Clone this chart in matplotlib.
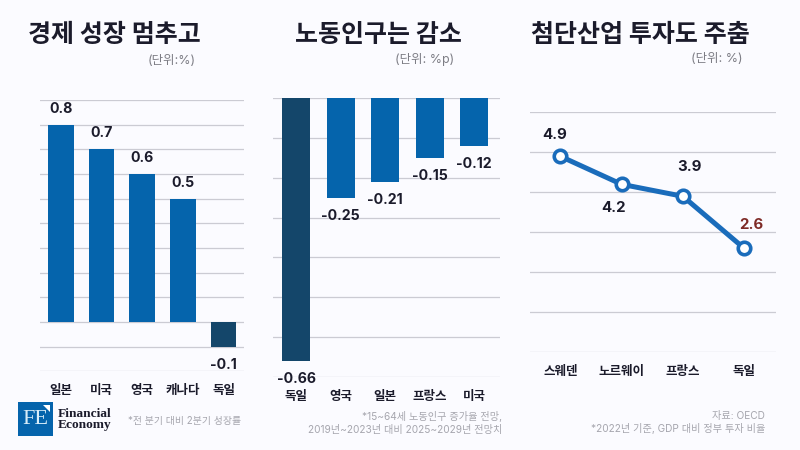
import matplotlib
matplotlib.use("Agg")
import matplotlib.pyplot as plt
from matplotlib.patches import Rectangle, Polygon

plt.rcParams['font.family'] = ['Inter', 'Noto Sans CJK KR', 'DejaVu Sans']

W, H = 800, 450
BG = '#FBFBFF'
BLUE = '#0564AC'
DARK = '#14466A'
LINE = '#1A6CBB'
GRID = '#CBCBD3'
INK = '#1B1B2B'

growth_cats = ['일본', '미국', '영국', '캐나다', '독일']
growth_vals = [0.8, 0.7, 0.6, 0.5, -0.1]
growth_labels = ['0.8', '0.7', '0.6', '0.5', '-0.1']
growth_ticks = [-0.2, -0.1, 0, 0.1, 0.2, 0.3, 0.4, 0.5, 0.6, 0.7, 0.8, 0.9]

labor_cats = ['독일', '영국', '일본', '프랑스', '미국']
labor_vals = [-0.66, -0.25, -0.21, -0.15, -0.12]
labor_labels = ['-0.66', '-0.25', '-0.21', '-0.15', '-0.12']
labor_ticks = [0, -0.1, -0.2, -0.3, -0.4, -0.5, -0.6, -0.7]

invest_cats = ['스웨덴', '노르웨이', '프랑스', '독일']
invest_vals = [4.9, 4.2, 3.9, 2.6]
invest_labels = ['4.9', '4.2', '3.9', '2.6']
invest_ticks = [0, 1, 2, 3, 4, 5, 6]
invest_offsets = [(-6, 21), (-8, -24), (7, 29), (7, 23)]
invest_colors = [INK, INK, INK, '#7E2A26']

fig = plt.figure(figsize=(W / 100, H / 100), dpi=100, facecolor=BG)


def px_axes(x0, x1, ytop, ybot):
    ax = fig.add_axes([x0 / W, 1 - ybot / H, (x1 - x0) / W, (ybot - ytop) / H])
    ax.set_facecolor('none')
    for s in ax.spines.values():
        s.set_visible(False)
    ax.set_axisbelow(True)
    ax.grid(axis='y', color=GRID, lw=0.9)
    ax.tick_params(axis='y', left=False, labelleft=False)
    ax.tick_params(axis='x', bottom=False, labelsize=9, colors=INK)
    return ax


def ftext(x, y, s, **kw):
    kw.setdefault('va', 'center')
    return fig.text(x / W, 1 - y / H, s, **kw)


def bars(ax, cats, vals, labels, dark_idx, width):
    colors = [DARK if i == dark_idx else BLUE for i in range(len(vals))]
    ax.bar(range(len(vals)), vals, width=width, color=colors, zorder=3)
    ax.set_xticks(range(len(cats)), cats, fontweight='bold')
    for i, (v, t) in enumerate(zip(vals, labels)):
        ax.annotate(t, (i, v), xytext=(0, 16 if v > 0 else -18), textcoords='offset pixels',
                    ha='center', va='center', fontsize=10.2, fontweight='bold', color=INK, zorder=4)


# Panel 1
ax1 = px_axes(40, 244, 100, 371.3)
bars(ax1, growth_cats, growth_vals, growth_labels, 4, 0.63)
ax1.set_ylim(-0.2, 0.9)
ax1.set_yticks(growth_ticks)
ax1.set_xlim(-0.515, 4.5)
ax1.tick_params(axis='x', pad=6.5)

# Panel 2
ax2 = px_axes(272.5, 500, 97.7, 377.3)
bars(ax2, labor_cats, labor_vals, labor_labels, 0, 0.63)
ax2.set_ylim(-0.7, 0)
ax2.set_yticks(labor_ticks)
ax2.set_xlim(-0.53, 4.58)
ax2.tick_params(axis='x', pad=6.5)

# Panel 3
ax3 = px_axes(530, 776, 112.3, 352.3)
xs = list(range(len(invest_vals)))
ax3.plot(xs, invest_vals, color=LINE, lw=3.6, marker='o', ms=9, mfc='white', mec=LINE, mew=2.6,
         zorder=3, clip_on=False)
ax3.set_ylim(0, 6)
ax3.set_yticks(invest_ticks)
ax3.set_xlim(-0.495, 3.52)
ax3.set_xticks(xs, invest_cats, fontweight='bold')
ax3.tick_params(axis='x', pad=6.5)
for x, v, t, off, c in zip(xs, invest_vals, invest_labels, invest_offsets, invest_colors):
    ax3.annotate(t, (x, v), xytext=off, textcoords='offset pixels', ha='center', va='center',
                 fontsize=10.8, fontweight='bold', color=c, zorder=4)

# Titles
ftext(28, 35, '경제 성장 멈추고', fontsize=18, fontweight='bold', color=INK)
ftext(295, 35, '노동인구는 감소', fontsize=18, fontweight='bold', color=INK)
ftext(531, 35, '첨단산업 투자도 주춤', fontsize=18, fontweight='bold', color=INK)

# Units
ftext(196, 61, '(단위:%)', fontsize=9, color='#7D7D85', ha='right')
ftext(454, 59, '(단위: %p)', fontsize=9, color='#7D7D85', ha='right')
ftext(743, 59, '(단위: %)', fontsize=9, color='#7D7D85', ha='right')

# Notes
NOTE = '#A6A6AE'
ftext(241, 421, '*전 분기 대비 2분기 성장률', fontsize=7.1, color=NOTE, ha='right')
ftext(502, 417, '*15~64세 노동인구 증가율 전망,', fontsize=7.3, color=NOTE, ha='right')
ftext(502, 430, '2019년~2023년 대비 2025~2029년 전망치', fontsize=7.3, color=NOTE, ha='right')
ftext(765, 416, '자료: OECD', fontsize=7.3, color=NOTE, ha='right')
ftext(765, 429, '*2022년 기준, GDP 대비 정부 투자 비율', fontsize=7.3, color=NOTE, ha='right')

# Logo
fig.add_artist(Rectangle((18 / W, 1 - 436 / H), 35 / W, 34 / H, transform=fig.transFigure,
                         facecolor=BLUE, edgecolor='none'))
fig.add_artist(Polygon([(43 / W, 1 - 405 / H), (50 / W, 1 - 405 / H), (50 / W, 1 - 412 / H)],
                       transform=fig.transFigure, facecolor='white', edgecolor='none'))
ftext(35, 420, 'FE', fontsize=16, color='#D7ECF8', family='Liberation Serif', ha='center')
ftext(58, 414, 'Financial', fontsize=9.6, color=INK, family='Liberation Serif', fontweight='bold')
ftext(58, 425, 'Economy', fontsize=9.6, color=INK, family='Liberation Serif', fontweight='bold')

fig.savefig('out.png', dpi=100, facecolor=BG)
